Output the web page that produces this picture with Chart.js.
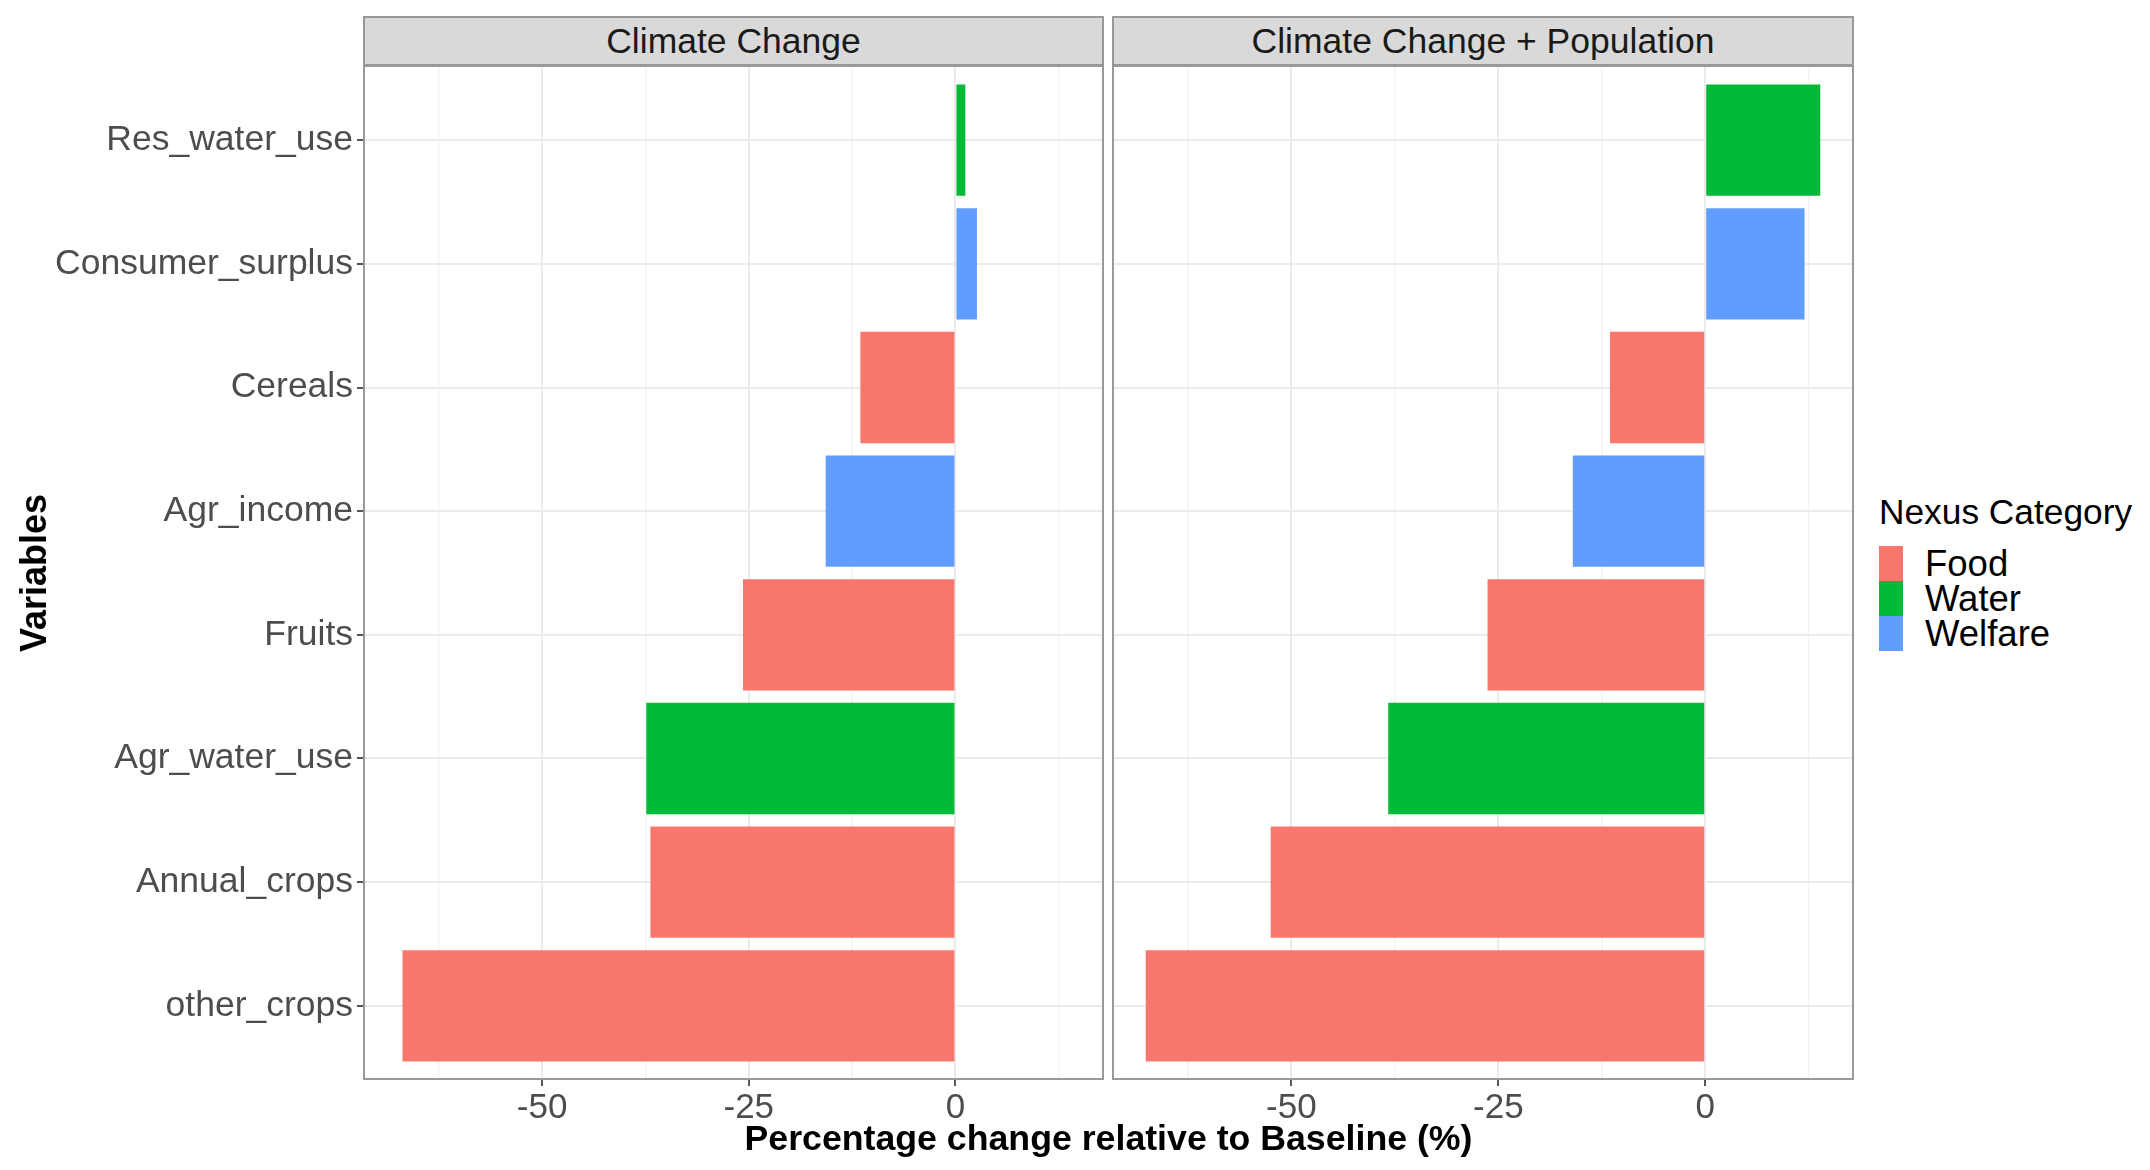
<!DOCTYPE html>
<html>
<head>
<meta charset="utf-8">
<script src="https://cdn.jsdelivr.net/npm/chart.js@4"></script>
<style>
  body { margin: 0; background: #fff; font-family: 'Liberation Sans', Arial, sans-serif; }
  #page { position: relative; width: 2150px; height: 1170px; overflow: hidden; }
  canvas { position: absolute; }
  .strip {
    position: absolute; top: 16px; height: 50px; box-sizing: border-box;
    background: #d9d9d9; border: 2px solid #999; color: #1a1a1a;
    font-size: 35.5px; line-height: 46px; text-align: center;
  }
  #xtitle {
    position: absolute; left: 363px; width: 1491px; top: 1118px;
    text-align: center; font-weight: bold; font-size: 35.7px; color: #000;
  }
  #legend { position: absolute; left: 1879px; top: 490px; color: #000; }
  #legend .ttl { font-size: 35.3px; line-height: 44px; margin-bottom: 12px; }
  #legend .item { height: 35px; display: flex; align-items: center; font-size: 36.5px; }
  #legend .key { width: 24px; height: 35px; margin-right: 22px; }
</style>
</head>
<body>
<div id="page">
  <div class="strip" style="left:363px;width:741px;">Climate Change</div>
  <div class="strip" style="left:1112px;width:742px;">Climate Change + Population</div>
  <canvas id="left-chart" width="1104" height="1104" style="left:0;top:66px;"></canvas>
  <canvas id="right-chart" width="742" height="1104" style="left:1112px;top:66px;"></canvas>
  <div id="xtitle">Percentage change relative to Baseline (%)</div>
  <div id="legend"></div>
</div>
<script>
// top to bottom, as in the picture
const variables = ['Res_water_use', 'Consumer_surplus', 'Cereals', 'Agr_income',
                   'Fruits', 'Agr_water_use', 'Annual_crops', 'other_crops'];
const nexus = ['Water', 'Welfare', 'Food', 'Welfare', 'Food', 'Water', 'Food', 'Food'];

const climateChange = [1.2, 2.6, -11.5, -15.7, -25.7, -37.4, -36.9, -66.9];
const climatePopulation = [13.9, 12.0, -11.5, -16.0, -26.3, -38.3, -52.5, -67.6];

const categories = ['Food', 'Water', 'Welfare'];
const categoryColors = { Food: '#F8766D', Water: '#00BA38', Welfare: '#619CFF' };

const xTicks = [-62.5, -50, -37.5, -25, -12.5, 0, 12.5];

Chart.defaults.font.family = "'Liberation Sans', Arial, sans-serif";

// ggplot style expansion of the shared x range
let all = climateChange.concat(climatePopulation, [0]);
let lo = Math.min(...all), hi = Math.max(...all);
let pad = (hi - lo) * 0.05;

const panelFrame = {
    id: 'panelFrame',
    afterDraw(chart) {
        const a = chart.chartArea;
        const ctx = chart.ctx;
        ctx.save();
        ctx.strokeStyle = '#999';
        ctx.lineWidth = 2;
        ctx.strokeRect(a.left + 1, a.top, a.width - 2, a.height - 1);
        ctx.restore();
    }
};

function isMajor(v) {
    return v % 25 === 0;
}

function makePanel(canvasId, values, showY) {
    return new Chart(document.getElementById(canvasId), {
        type: 'bar',
        data: {
            datasets: [{
                data: values.map((v, i) => ({ x: v, y: i + 1 })),
                backgroundColor: nexus.map(n => categoryColors[n]),
                borderWidth: 0,
                categoryPercentage: 1,
                barPercentage: 0.9
            }]
        },
        options: {
            indexAxis: 'y',
            responsive: false,
            animation: false,
            devicePixelRatio: 1,
            plugins: { legend: { display: false }, tooltip: { enabled: false } },
            scales: {
                x: {
                    type: 'linear',
                    min: lo - pad,
                    max: hi + pad,
                    afterBuildTicks: s => { s.ticks = xTicks.map(v => ({ value: v })); },
                    afterFit: s => { s.height = 90; s.paddingLeft = 0; s.paddingRight = 0; },
                    border: { display: false },
                    grid: {
                        color: c => (c.tick && isMajor(c.tick.value)) ? '#ebebeb' : '#f3f3f3',
                        lineWidth: c => (c.tick && isMajor(c.tick.value)) ? 2 : 1.5,
                        tickColor: c => (c.tick && isMajor(c.tick.value)) ? '#555' : 'rgba(0,0,0,0)',
                        tickLength: 6
                    },
                    ticks: {
                        autoSkip: false,
                        maxRotation: 0,
                        padding: 1,
                        color: '#4d4d4d',
                        font: { size: 35 },
                        callback: v => isMajor(v) ? String(v) : ''
                    }
                },
                y: {
                    type: 'linear',
                    reverse: true,
                    offset: false,
                    min: 0.4,
                    max: 8.6,
                    afterBuildTicks: s => { s.ticks = variables.map((_, i) => ({ value: i + 1 })); },
                    afterFit: s => { s.width = showY ? 363 : 0; s.paddingTop = 0; s.paddingBottom = 0; },
                    border: { display: false },
                    grid: {
                        offset: false,
                        color: '#ebebeb',
                        lineWidth: 2,
                        drawTicks: showY,
                        tickColor: '#555',
                        tickLength: 6
                    },
                    ticks: {
                        display: showY,
                        autoSkip: false,
                        padding: 4,
                        color: '#4d4d4d',
                        font: { size: 35.5 },
                        callback: v => variables[v - 1]
                    },
                    title: {
                        display: showY,
                        text: 'Variables',
                        color: '#000',
                        font: { size: 36, weight: 'bold' },
                        padding: { top: 14, bottom: 0 }
                    }
                }
            }
        },
        plugins: [panelFrame]
    });
}

makePanel('left-chart', climateChange, true);
makePanel('right-chart', climatePopulation, false);

// legend
let legend = document.getElementById('legend');
let html = '<div class="ttl">Nexus Category</div>';
categories.forEach(c => {
    html += `<div class="item"><span class="key" style="background:${categoryColors[c]}"></span>${c}</div>`;
});
legend.innerHTML = html;
</script>
</body>
</html>
